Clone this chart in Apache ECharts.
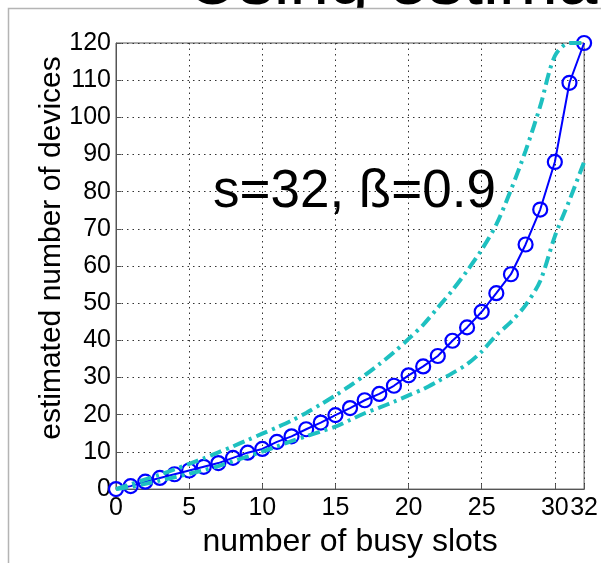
<!DOCTYPE html>
<html>
<head>
<meta charset="utf-8">
<script src="https://cdn.jsdelivr.net/npm/echarts@6/dist/echarts.min.js"></script>
<style>
  html, body { margin: 0; padding: 0; background: #fff; }
  #chart { width: 601px; height: 563px; }
</style>
</head>
<body>
<div id="chart"></div>
<script>
// busy slots 0..32
var slots = [0, 1, 2, 3, 4, 5, 6, 7, 8, 9, 10, 11, 12, 13, 14, 15, 16,
  17, 18, 19, 20, 21, 22, 23, 24, 25, 26, 27, 28, 29, 30, 31, 32];
// estimated number of devices (blue, circles)
var estimate = [0, 0.8, 2, 3, 4, 5, 6, 7, 8.4, 9.8, 10.8, 12.7, 14.2, 16.1, 17.9, 19.9, 21.8,
  23.9, 25.6, 27.8, 30.6, 33, 35.8, 39.9, 43.5, 47.7, 52.7, 57.8, 65.8, 75.2, 88, 109.3, 120];
// upper bound (cyan dash-dot)
var upper = [0, 1.3, 2.6, 3.9, 5.3, 6.8, 8.3, 9.9, 11.5, 13.2, 14.9, 16.6, 18.4, 20.5, 22.8, 25.2, 27.8,
  30.6, 33.6, 36.8, 40.4, 44.2, 48.8, 53.5, 58.7, 64.4, 71.2, 80.5, 91, 103, 116.5, 120, 120];
// lower bound (cyan dash-dot)
var lower = [0, 0.6, 1.4, 2.3, 3.2, 4.1, 5.1, 6.2, 7.5, 8.8, 10.1, 11.5, 12.9, 14.2, 15.5, 16.8, 18.6,
  20.4, 21.9, 23.5, 25.2, 26.9, 29, 31.2, 33.6, 37, 41.4, 45, 49.5, 56, 68, 77.7, 88];

var font = "'Liberation Sans', Arial, sans-serif";

function pairs(ys) {
  return slots.map(function (x, i) { return [x, ys[i]]; });
}

var chart = echarts.init(document.getElementById('chart'), null, { renderer: 'canvas' });

var cyanLine = {
  color: '#1ec0c0',
  width: 4,
  type: [12, 5, 3, 5]
};

chart.setOption({
  animation: false,
  backgroundColor: '#fff',
  textStyle: { fontFamily: font },
  graphic: [
    {
      // slide title, mostly cut off at the top
      type: 'text', z: -30,
      x: 187, y: -16,
      style: {
        text: 'Using estimated', fill: '#000',
        font: '71px ' + font,
        align: 'left', verticalAlign: 'middle'
      }
    },
    {
      type: 'rect', z: -20,
      shape: { x: 8.5, y: 8.5, width: 700, height: 700 },
      style: { fill: '#fff', stroke: '#b4b4b4', lineWidth: 1.5 }
    },
    {
      type: 'text', z: 10,
      x: 52, y: 248, rotation: Math.PI / 2,
      style: {
        text: 'estimated number of devices', fill: '#000',
        font: '30px ' + font,
        align: 'center', verticalAlign: 'middle'
      }
    },
    {
      type: 'text', z: 10,
      x: 213, y: 192,
      style: {
        text: 's=32, ß=0.9', fill: '#000',
        font: '53px ' + font,
        align: 'left', verticalAlign: 'middle'
      }
    }
  ],
  grid: {
    left: 116, right: 16, top: 43, bottom: 66,
    show: true, borderColor: '#555', borderWidth: 1,
    containLabel: false
  },
  xAxis: {
    type: 'value', min: 0, max: 32, interval: 5,
    name: 'number of busy slots',
    nameLocation: 'middle', nameGap: 35,
    nameTextStyle: { fontSize: 32, color: '#000', fontFamily: font },
    axisLine: { show: true, onZero: false, lineStyle: { color: '#555', width: 1 } },
    axisTick: { show: true, inside: true, length: 5, lineStyle: { color: '#555' } },
    axisLabel: { fontSize: 25, color: '#000', margin: 7, fontFamily: font },
    splitLine: { show: true, lineStyle: { color: '#333', width: 1, type: [1.5, 4] } }
  },
  yAxis: {
    type: 'value', min: 0, max: 120, interval: 10,
    axisLine: { show: true, lineStyle: { color: '#555', width: 1 } },
    axisTick: { show: true, inside: true, length: 5, lineStyle: { color: '#555' } },
    axisLabel: { fontSize: 25, color: '#000', margin: 5, fontFamily: font },
    splitLine: { show: true, lineStyle: { color: '#333', width: 1, type: [1.5, 4] } }
  },
  series: [
    {
      name: 'estimate', type: 'line',
      data: pairs(estimate),
      symbol: 'circle', symbolSize: 14,
      lineStyle: { color: '#0000ff', width: 2 },
      itemStyle: { color: 'rgba(0,0,0,0)', borderColor: '#0000ff', borderWidth: 2.2 },
      z: 3
    },
    {
      name: 'upper', type: 'line', smooth: 0.3,
      data: pairs(upper), showSymbol: false,
      lineStyle: cyanLine, z: 4
    },
    {
      name: 'lower', type: 'line', smooth: 0.3,
      data: pairs(lower), showSymbol: false,
      lineStyle: cyanLine, z: 4
    }
  ]
});
</script>
</body>
</html>
